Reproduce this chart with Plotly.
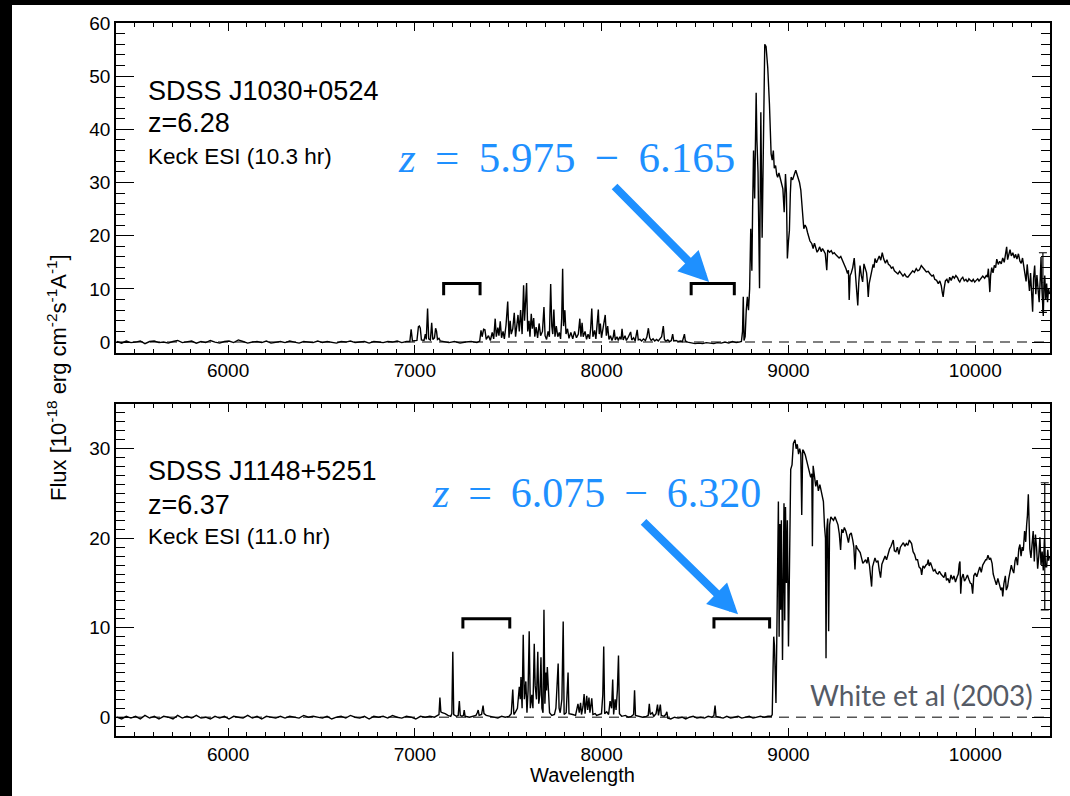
import plotly.graph_objects as go

# ---------------- data ----------------
# Upper panel: SDSS J1030+0524 spectrum (wavelength [A], flux [1e-18 erg/cm2/s/A])
TOP_SPECTRUM = [
    (5405, 0.1), (5430, -0.2), (5455, 0.2), (5480, -0.1), (5505, 0.0), (5530, 0.2), (5555, -0.3), (5580, 0.1),
    (5605, 0.2), (5630, -0.1), (5655, 0.0), (5680, -0.2), (5705, 0.1), (5730, 0.3), (5755, -0.1), (5780, 0.0),
    (5805, 0.2), (5830, -0.2), (5855, 0.1), (5880, -0.1), (5905, 0.3), (5930, 0.0), (5955, -0.2), (5980, 0.1),
    (6005, 0.2), (6030, -0.1), (6055, 0.4), (6080, 0.1), (6105, -0.2), (6130, 0.0), (6155, 0.1), (6180, -0.1),
    (6205, 0.2), (6230, -0.2), (6255, 0.0), (6280, 0.1), (6305, -0.1), (6330, 0.2), (6355, 0.0), (6380, -0.2),
    (6405, 0.1), (6430, 0.0), (6455, -0.1), (6480, 0.2), (6505, -0.1), (6530, 0.1), (6555, 0.0), (6580, -0.2),
    (6605, 0.1), (6630, 0.0), (6655, 0.2), (6680, -0.1), (6705, 0.0), (6730, 0.1), (6755, -0.2), (6780, 0.1),
    (6805, 0.0), (6830, -0.1), (6855, 0.1), (6880, 0.0), (6905, 0.2), (6930, -0.1), (6955, 0.1),
    (6973, 0.1), (6980, 2.4), (6987, 0.2), (7011, 0.3), (7019, 2.9), (7024, 3.0), (7029, 2.6), (7035, 0.4),
    (7049, 0.3), (7056, 1.5), (7061, 0.5), (7068, 6.3), (7074, 0.6), (7083, 0.4), (7090, 3.6), (7096, 0.5),
    (7105, 0.8), (7111, 2.6), (7116, 2.0), (7121, 0.5), (7129, 0.7), (7136, 0.2), (7152, 0.1), (7182, -0.1),
    (7212, 0.1), (7242, -0.2), (7272, 0.0), (7302, 0.1), (7332, -0.1), (7347, 0.2), (7354, 2.2), (7360, 1.0),
    (7368, 2.4), (7375, 2.3), (7382, 0.5), (7394, 1.2), (7404, 0.3), (7414, 1.8), (7422, 0.6), (7430, 4.4),
    (7436, 1.0), (7444, 2.7), (7450, 1.2), (7457, 3.9), (7464, 0.8), (7472, 2.0), (7479, 0.6), (7488, 3.2),
    (7497, 7.6), (7504, 0.8), (7510, 4.0), (7516, 1.5), (7524, 2.5), (7532, 5.5), (7539, 1.0), (7546, 3.0),
    (7552, 5.1), (7559, 2.0), (7566, 6.0), (7574, 1.5), (7582, 10.7), (7587, 4.0), (7594, 9.5), (7598, 11.1),
    (7604, 2.0), (7611, 4.0), (7616, 1.0), (7623, 5.3), (7629, 2.5), (7636, 4.5), (7642, 1.0), (7649, 2.8),
    (7657, 0.8), (7665, 3.5), (7673, 1.2), (7683, 2.0), (7691, 6.6), (7697, 1.2), (7705, 0.5), (7713, 2.0),
    (7720, 1.0), (7727, 10.9), (7733, 3.0), (7738, 1.5), (7744, 6.1), (7750, 1.0), (7757, 3.0), (7765, 1.0),
    (7773, 1.8), (7780, 0.6), (7786, 4.5), (7791, 13.8), (7796, 3.0), (7803, 6.0), (7809, 1.5), (7817, 2.5),
    (7825, 0.7), (7835, 1.8), (7845, 0.6), (7855, 2.0), (7865, 0.8), (7875, 1.5), (7883, 4.4), (7889, 1.0),
    (7895, 3.6), (7901, 1.0), (7911, 2.0), (7919, 0.5), (7927, 1.5), (7935, 0.6), (7941, 2.5), (7947, 6.3),
    (7953, 1.0), (7962, 2.2), (7969, 0.6), (7976, 3.5), (7982, 6.1), (7987, 1.5), (7993, 3.5), (7999, 0.8),
    (8007, 2.5), (8015, 4.0), (8019, 5.1), (8025, 1.2), (8032, 3.0), (8039, 0.5), (8047, 1.2), (8055, 0.3),
    (8062, 1.0), (8067, 2.3), (8073, 0.4), (8082, 1.0), (8089, 0.3), (8097, 1.0), (8104, 0.5), (8109, 2.5),
    (8115, 0.4), (8125, 1.2), (8132, 0.3), (8142, 0.9), (8155, 1.9), (8161, 0.4), (8171, 0.8), (8179, 0.2),
    (8190, 2.3), (8196, 0.4), (8205, 0.5), (8214, 0.2), (8224, 0.6), (8234, 0.3), (8242, 1.0), (8250, 2.6),
    (8257, 0.8), (8265, 0.3), (8275, 0.6), (8284, 0.2), (8294, 0.5), (8303, 0.2), (8312, 0.7), (8321, 1.0),
    (8330, 3.0), (8336, 0.5), (8344, 0.2), (8354, 0.4), (8364, 0.1), (8373, 0.3), (8380, 1.5), (8386, 0.2),
    (8399, 0.3), (8410, 0.1), (8422, 0.2), (8432, 0.1), (8443, 1.5), (8448, 0.2), (8460, 0.0), (8480, -0.2),
    (8500, -0.3), (8520, -0.2), (8540, -0.3), (8560, -0.1), (8580, -0.2), (8600, -0.3), (8620, -0.1),
    (8640, -0.2), (8660, 0.0), (8680, -0.2), (8700, 0.1), (8720, -0.1), (8736, 0.0), (8748, 0.1),
    (8754, 2.0), (8758, 8.5), (8762, 0.3), (8768, 1.0), (8774, 6.0), (8780, 8.5), (8786, 6.0), (8792, 10.0),
    (8798, 21.3), (8804, 13.4), (8808, 25.0), (8813, 36.0), (8819, 27.0), (8823, 40.0), (8827, 46.9),
    (8831, 38.0), (8837, 32.0), (8845, 10.1), (8852, 43.2), (8859, 19.6), (8866, 42.8), (8873, 56.0),
    (8880, 55.6), (8889, 51.6), (8898, 44.8), (8907, 35.4), (8913, 34.2), (8919, 36.0), (8924, 32.7),
    (8931, 33.2), (8937, 31.5), (8942, 31.0), (8949, 31.8), (8957, 30.5), (8964, 29.6), (8970, 28.8),
    (8977, 24.4), (8984, 31.6), (8989, 28.0), (8994, 15.7), (9000, 19.0), (9005, 21.0), (9010, 28.0),
    (9014, 31.0), (9022, 30.5), (9027, 31.2), (9032, 31.6), (9039, 32.3), (9046, 31.5), (9053, 30.8),
    (9059, 30.0), (9066, 28.6), (9071, 26.0), (9076, 23.5), (9082, 21.3), (9089, 22.0), (9096, 21.5),
    (9102, 20.6), (9107, 19.8), (9115, 19.0), (9125, 18.5), (9132, 17.6), (9139, 18.6), (9146, 17.8),
    (9153, 16.9), (9160, 17.3), (9167, 17.9), (9175, 17.0), (9182, 17.6), (9190, 17.1), (9197, 16.6),
    (9205, 13.5), (9210, 17.3), (9220, 16.9), (9229, 17.2), (9237, 16.6), (9245, 16.8), (9254, 16.4),
    (9263, 16.0), (9271, 15.8), (9280, 16.1), (9289, 15.4), (9298, 14.8), (9308, 13.8), (9316, 12.9),
    (9321, 13.5), (9325, 7.9), (9330, 12.5), (9336, 13.0), (9344, 14.0), (9352, 15.8), (9358, 13.0),
    (9364, 12.0), (9371, 6.9), (9376, 11.0), (9383, 14.4), (9390, 12.5), (9397, 11.3), (9404, 14.7),
    (9411, 13.8), (9418, 13.0), (9422, 11.5), (9427, 8.5), (9432, 11.0), (9438, 12.0), (9446, 13.8),
    (9453, 14.6), (9458, 14.0), (9463, 15.7), (9471, 14.9), (9478, 15.5), (9486, 16.2), (9494, 15.4),
    (9502, 16.8), (9510, 15.6), (9519, 14.8), (9527, 15.5), (9535, 14.6), (9543, 14.4), (9551, 13.9),
    (9559, 14.1), (9567, 13.4), (9577, 13.1), (9586, 12.8), (9595, 13.3), (9604, 12.9), (9613, 12.4),
    (9622, 12.8), (9631, 12.3), (9639, 12.2), (9647, 12.6), (9655, 13.0), (9665, 13.4), (9674, 13.1),
    (9684, 13.8), (9692, 13.4), (9701, 13.6), (9711, 14.4), (9720, 13.9), (9729, 13.6), (9738, 13.2),
    (9748, 13.3), (9758, 12.8), (9768, 12.4), (9776, 12.6), (9783, 11.8), (9793, 11.6), (9802, 11.0),
    (9810, 11.5), (9818, 10.6), (9823, 9.4), (9828, 8.5), (9833, 10.0), (9840, 11.5), (9848, 11.8),
    (9856, 11.1), (9863, 12.2), (9871, 11.6), (9880, 12.4), (9888, 12.0), (9896, 12.5), (9905, 12.1),
    (9911, 11.6), (9917, 11.3), (9925, 11.9), (9933, 12.2), (9941, 11.5), (9950, 11.8), (9958, 11.3),
    (9966, 11.9), (9974, 11.6), (9982, 11.4), (9989, 11.8), (9997, 11.3), (10005, 11.6), (10013, 11.9),
    (10020, 11.5), (10030, 11.9), (10040, 12.4), (10050, 12.0), (10060, 12.6), (10065, 12.2), (10070, 13.8),
    (10075, 11.0), (10078, 9.4), (10082, 12.5), (10088, 14.0), (10095, 13.0), (10102, 14.4), (10109, 14.0),
    (10115, 15.6), (10123, 14.6), (10131, 15.2), (10139, 14.7), (10147, 15.8), (10155, 15.0), (10161, 16.5),
    (10168, 17.9), (10173, 15.5), (10179, 16.5), (10186, 17.4), (10193, 16.2), (10201, 16.8), (10209, 15.8),
    (10216, 16.5), (10223, 15.6), (10231, 16.6), (10239, 15.2), (10246, 14.8), (10253, 15.8), (10261, 13.5),
    (10266, 12.0), (10272, 11.4), (10278, 14.6), (10284, 12.0), (10290, 9.6), (10296, 13.0), (10302, 7.0),
    (10307, 5.7), (10312, 12.0), (10318, 14.4), (10324, 9.0), (10330, 12.6), (10336, 10.0), (10342, 7.5),
    (10348, 12.0), (10352, 16.0), (10356, 10.5), (10360, 6.5), (10364, 4.9), (10368, 10.5), (10372, 12.5),
    (10377, 8.0), (10382, 11.0), (10387, 7.5), (10392, 10.0), (10398, 9.0),
]

# Lower panel: SDSS J1148+5251 spectrum
BOTTOM_SPECTRUM = [
    (5405, 0.0), (5430, -0.2), (5455, 0.1), (5480, -0.1), (5505, 0.1), (5530, -0.2), (5555, 0.2), (5580, -0.1),
    (5605, 0.1), (5630, -0.2), (5655, 0.1), (5680, 0.0), (5705, -0.2), (5730, 0.2), (5755, -0.1), (5780, 0.1),
    (5805, -0.1), (5830, 0.2), (5855, -0.1), (5880, 0.0), (5905, -0.2), (5930, 0.1), (5955, -0.1), (5980, 0.1),
    (6005, -0.2), (6030, 0.1), (6055, 0.0), (6080, -0.1), (6105, 0.2), (6130, -0.1), (6155, 0.1), (6180, -0.2),
    (6205, 0.1), (6230, 0.0), (6255, -0.1), (6280, 0.1), (6305, -0.1), (6330, 0.1), (6355, 0.0), (6380, -0.1),
    (6405, 0.2), (6430, 0.0), (6455, 0.1), (6480, 0.0), (6505, -0.1), (6530, 0.1), (6555, -0.2), (6580, 0.0),
    (6605, 0.1), (6630, -0.1), (6655, 0.2), (6680, 0.0), (6705, -0.1), (6730, 0.1), (6755, -0.2), (6780, 0.1),
    (6805, 0.0), (6830, 0.1), (6855, -0.1), (6880, 0.2), (6905, 0.0), (6930, -0.1), (6955, 0.1), (6980, 0.0),
    (7005, -0.2), (7030, 0.1), (7055, 0.0), (7080, 0.1), (7105, 0.0),
    (7129, 0.3), (7134, 2.2), (7139, 0.6), (7146, 0.5), (7162, 0.4), (7177, 0.2), (7192, 0.1), (7198, 0.4),
    (7203, 7.3), (7208, 0.3), (7222, 0.1), (7232, 0.2), (7238, 1.8), (7243, 0.2), (7252, 0.1), (7260, 0.2),
    (7264, 0.8), (7269, 0.1), (7292, 0.0), (7312, 0.1), (7327, 0.2), (7334, 0.5), (7339, 0.8), (7344, 0.2),
    (7357, 0.3), (7365, 1.3), (7370, 0.4), (7382, 0.2), (7404, 0.1), (7424, 0.0), (7444, -0.1), (7464, 0.1),
    (7484, 0.0), (7504, 0.1), (7516, 0.4), (7524, 3.1), (7530, 0.3), (7539, 0.6), (7549, 1.0), (7559, 3.4),
    (7564, 2.0), (7568, 4.5), (7574, 1.0), (7580, 9.2), (7586, 2.0), (7594, 4.0), (7600, 0.5), (7606, 3.0),
    (7612, 9.6), (7618, 1.0), (7626, 2.5), (7632, 1.0), (7639, 8.2), (7644, 3.5), (7651, 2.0), (7658, 7.3),
    (7663, 1.5), (7669, 2.5), (7675, 6.7), (7680, 1.0), (7686, 0.5), (7691, 12.0), (7696, 1.5), (7702, 5.0),
    (7705, 3.0), (7709, 5.6), (7715, 2.5), (7721, 0.5), (7733, 0.2), (7747, 0.3), (7755, 1.0), (7762, 4.0),
    (7767, 6.0), (7772, 1.0), (7778, 0.5), (7787, 2.0), (7794, 10.7), (7799, 0.3), (7810, 0.5), (7820, 5.0),
    (7825, 0.4), (7845, 0.3), (7860, 0.2), (7873, 1.5), (7880, 0.5), (7887, 1.6), (7892, 0.3), (7900, 1.2),
    (7906, 2.6), (7911, 0.4), (7920, 2.4), (7925, 0.8), (7932, 2.2), (7937, 0.5), (7947, 2.1), (7953, 0.3),
    (7965, 0.4), (7973, 0.2), (7987, 0.3), (7999, 0.4), (8006, 2.5), (8011, 7.9), (8016, 0.4), (8027, 0.6),
    (8037, 0.3), (8045, 1.8), (8053, 1.0), (8059, 4.2), (8064, 0.3), (8072, 2.0), (8077, 0.8), (8084, 3.0),
    (8090, 6.9), (8095, 0.4), (8107, 0.1), (8127, 0.2), (8142, 0.0), (8159, 0.1), (8171, 0.3), (8176, 3.0),
    (8181, 0.2), (8199, 0.1), (8219, 0.0), (8239, 0.1), (8249, 0.2), (8255, 1.5), (8260, 0.3), (8271, 0.5),
    (8279, 0.1), (8291, 0.4), (8299, 1.4), (8304, 0.2), (8314, 1.4), (8319, 0.2), (8334, 0.1), (8343, 0.3),
    (8349, 0.6), (8354, -0.1), (8370, -0.2), (8390, 0.0), (8410, -0.1), (8430, 0.0), (8450, -0.2), (8470, 0.0),
    (8490, 0.1), (8510, -0.1), (8530, 0.0), (8550, -0.1), (8570, 0.1), (8590, 0.0), (8601, 0.2), (8607, 1.3),
    (8612, 0.1), (8630, 0.0), (8650, -0.1), (8670, 0.1), (8690, -0.1), (8710, 0.0), (8730, 0.1), (8750, -0.1),
    (8770, 0.0), (8790, 0.1), (8810, -0.1), (8830, 0.0), (8850, 0.1), (8870, 0.0), (8890, 0.1), (8908, 0.1),
    (8913, 0.3), (8917, 5.0), (8921, 9.0), (8925, 8.0), (8929, 2.2), (8933, 1.6), (8937, 8.0), (8941, 18.0),
    (8946, 24.1), (8950, 9.0), (8954, 21.6), (8958, 12.0), (8962, 22.0), (8968, 6.4), (8972, 15.0),
    (8976, 23.9), (8980, 10.8), (8984, 23.5), (8989, 15.0), (8994, 22.0), (9000, 7.9), (9006, 20.0),
    (9012, 27.7), (9019, 28.2), (9026, 30.6), (9035, 31.0), (9041, 30.0), (9047, 30.5), (9054, 29.4),
    (9060, 30.0), (9066, 29.5), (9071, 22.6), (9076, 29.9), (9082, 29.7), (9090, 29.3), (9097, 28.7),
    (9104, 28.0), (9112, 27.5), (9119, 26.8), (9125, 27.2), (9128, 19.1), (9132, 28.1), (9139, 26.9),
    (9146, 25.8), (9153, 26.5), (9160, 25.3), (9168, 26.0), (9175, 25.4), (9181, 24.6), (9187, 24.1),
    (9193, 21.3), (9198, 20.0), (9201, 6.6), (9205, 21.0), (9210, 22.2), (9215, 9.6), (9220, 21.5),
    (9227, 22.4), (9233, 22.2), (9241, 22.0), (9249, 22.4), (9257, 21.9), (9265, 21.5), (9272, 20.5),
    (9279, 18.7), (9285, 21.0), (9292, 20.6), (9299, 21.2), (9307, 20.8), (9314, 20.2), (9321, 19.5),
    (9328, 20.4), (9336, 20.6), (9344, 19.8), (9350, 19.0), (9356, 16.5), (9362, 19.2), (9368, 18.9),
    (9376, 18.7), (9384, 18.4), (9391, 17.8), (9398, 17.2), (9406, 17.4), (9413, 17.6), (9420, 17.2),
    (9426, 17.9), (9434, 16.9), (9440, 15.8), (9445, 14.6), (9450, 16.8), (9456, 17.2), (9463, 17.8),
    (9471, 17.3), (9479, 17.5), (9486, 16.4), (9493, 15.6), (9500, 17.1), (9509, 17.7), (9517, 18.0),
    (9525, 17.6), (9533, 18.3), (9541, 18.8), (9549, 19.1), (9561, 19.8), (9567, 18.6), (9575, 18.5),
    (9583, 19.0), (9591, 18.2), (9599, 19.0), (9607, 19.2), (9615, 19.5), (9623, 19.1), (9631, 19.4),
    (9639, 19.2), (9647, 19.8), (9659, 19.4), (9667, 18.5), (9675, 18.2), (9683, 17.6), (9691, 17.6),
    (9699, 16.8), (9708, 16.6), (9713, 15.9), (9720, 16.9), (9728, 16.7), (9736, 17.0), (9743, 17.1),
    (9748, 17.6), (9753, 16.9), (9760, 17.3), (9768, 16.7), (9776, 16.3), (9784, 16.5), (9792, 16.1),
    (9800, 16.0), (9808, 16.3), (9816, 16.0), (9824, 15.8), (9832, 15.6), (9840, 16.2), (9846, 15.3),
    (9854, 15.5), (9862, 15.0), (9870, 15.9), (9878, 15.4), (9886, 15.8), (9894, 15.1), (9903, 15.7),
    (9909, 16.0), (9914, 17.1), (9918, 17.4), (9922, 13.8), (9927, 15.5), (9935, 16.0), (9942, 15.2),
    (9950, 15.5), (9958, 15.9), (9966, 15.4), (9973, 15.0), (9980, 14.9), (9986, 13.8), (9992, 15.8),
    (10000, 16.1), (10008, 15.7), (10016, 16.4), (10024, 16.8), (10032, 16.2), (10040, 17.0), (10048, 17.3),
    (10056, 17.6), (10061, 17.6), (10068, 18.1), (10076, 17.6), (10082, 17.8), (10090, 17.2), (10096, 16.0),
    (10104, 15.4), (10113, 14.8), (10121, 15.5), (10129, 14.9), (10137, 14.2), (10143, 14.5), (10147, 13.5),
    (10153, 14.9), (10161, 15.8), (10166, 14.2), (10173, 14.6), (10179, 15.5), (10186, 16.3), (10193, 17.0),
    (10199, 16.5), (10206, 16.1), (10213, 17.5), (10219, 17.9), (10226, 17.0), (10233, 18.8), (10239, 19.3),
    (10245, 18.0), (10251, 19.0), (10257, 18.6), (10264, 20.8), (10270, 19.6), (10275, 21.5), (10279, 22.5),
    (10284, 24.9), (10288, 22.0), (10292, 18.8), (10298, 17.8), (10304, 20.0), (10310, 20.8), (10316, 17.4),
    (10322, 20.4), (10328, 19.0), (10334, 16.6), (10340, 18.0), (10346, 20.1), (10352, 17.0), (10358, 18.5),
    (10364, 16.4), (10370, 19.9), (10376, 16.8), (10382, 16.8), (10388, 18.7), (10392, 17.5), (10398, 18.0),
]

# Absorber redshift windows (Ly-beta and Ly-alpha brackets), wavelength limits
TOP_BRACKETS = [(7154, 7349), (8479, 8710)]
BOTTOM_BRACKETS = [(7257, 7508), (8601, 8899)]
TOP_BRACKET_LEVELS = (8.8, 11.0)      # leg end, bar level
BOTTOM_BRACKET_LEVELS = (9.9, 11.0)

# Arrow tips (wavelength, flux)
TOP_ARROW_TIP = (8575, 11.3)
BOTTOM_ARROW_TIP = (8730, 11.5)

# Error bars at the red end (wavelength, flux, half-length)
TOP_ERRBAR = (10362, 11.2, 5.6)
BOTTOM_ERRBAR = (10372, 19.1, 7.1)

X_TICKS = [6000, 7000, 8000, 9000, 10000]
X_TICK_TEXT = ["6000", "7000", "8000", "9000", "10000"]
TOP_Y_TICKS = [0, 10, 20, 30, 40, 50, 60]
BOTTOM_Y_TICKS = [0, 10, 20, 30]

TOP_LABELS = ["SDSS J1030+0524", "z=6.28", "Keck ESI (10.3 hr)"]
BOTTOM_LABELS = ["SDSS J1148+5251", "z=6.37", "Keck ESI (11.0 hr)"]
TOP_ZRANGE = ("5.975", "6.165")
BOTTOM_ZRANGE = ("6.075", "6.320")
CREDIT = "White et al (2003)"

# ---------------- layout helpers ----------------
W, H = 1070, 796
ML, MR, MT, MB = 116, 20, 23, 60
PW, PH = W - ML - MR, H - MT - MB


def pxx(x):
    return (x - ML) / PW


def pxy(y):
    return (H - MB - y) / PH


BLUE = "#1E90FF"
SANS = "Liberation Sans, Arial, sans-serif"
SERIF = "Liberation Serif, Times New Roman, serif"

fig = go.Figure()


def add_panel(spec, brackets, levels, err, xa, ya):
    wl = [p[0] for p in spec]
    fl = [p[1] for p in spec]
    # dashed zero line
    fig.add_trace(go.Scatter(x=[5400, 10400], y=[0, 0], mode="lines",
                             line=dict(color="#555555", width=1.5, dash="10px,7px"),
                             xaxis=xa, yaxis=ya, hoverinfo="skip"))
    fig.add_trace(go.Scatter(x=wl, y=fl, mode="lines",
                             line=dict(color="black", width=1.4),
                             xaxis=xa, yaxis=ya))
    leg, bar = levels
    for (a, b) in brackets:
        fig.add_trace(go.Scatter(x=[a, a, b, b], y=[leg, bar, bar, leg], mode="lines",
                                 line=dict(color="black", width=3),
                                 xaxis=xa, yaxis=ya, hoverinfo="skip"))
    fig.add_trace(go.Scatter(x=[err[0]], y=[err[1]], mode="markers",
                             marker=dict(size=1, color="black"),
                             error_y=dict(type="data", array=[err[2]], color="black",
                                          thickness=1.2, width=4),
                             xaxis=xa, yaxis=ya, hoverinfo="skip"))


add_panel(TOP_SPECTRUM, TOP_BRACKETS, TOP_BRACKET_LEVELS, TOP_ERRBAR, "x", "y")
add_panel(BOTTOM_SPECTRUM, BOTTOM_BRACKETS, BOTTOM_BRACKET_LEVELS, BOTTOM_ERRBAR, "x2", "y2")

axis_common = dict(showline=True, linecolor="black", linewidth=1.5, mirror="ticks",
                   ticks="inside", tickcolor="black", tickwidth=1.3,
                   showgrid=False, zeroline=False,
                   tickfont=dict(family=SANS, size=19, color="black"))

xcommon = dict(axis_common, range=[5400, 10400], tickvals=X_TICKS, ticktext=X_TICK_TEXT,
               ticklen=8,
               minor=dict(dtick=100, tick0=0, ticks="inside", ticklen=4,
                          tickcolor="black", tickwidth=1.1, showgrid=False))

top_dom = [pxy(352.7), 1.0]
bot_dom = [0.0, pxy(404)]

fig.update_layout(
    width=W, height=H,
    margin=dict(l=ML, r=MR, t=MT, b=MB, pad=0),
    paper_bgcolor="white", plot_bgcolor="white",
    showlegend=False,
    xaxis=dict(xcommon, domain=[0, 1], anchor="y"),
    xaxis2=dict(xcommon, domain=[0, 1], anchor="y2"),
    yaxis=dict(axis_common, domain=top_dom, anchor="x", range=[-2.0, 60.0],
               tickvals=TOP_Y_TICKS, ticklen=18,
               minor=dict(dtick=2, tick0=0, ticks="inside", ticklen=9,
                          tickcolor="black", tickwidth=1.1, showgrid=False)),
    yaxis2=dict(axis_common, domain=bot_dom, anchor="x2", range=[-2.1, 35.0],
                tickvals=BOTTOM_Y_TICKS, ticklen=18,
                minor=dict(dtick=1, tick0=0, ticks="inside", ticklen=9,
                           tickcolor="black", tickwidth=1.1, showgrid=False)),
)

annotations = []


def label(text, x, y, size, color="black", family=SANS, xanchor="left", angle=0):
    annotations.append(dict(text=text, x=pxx(x), y=pxy(y), xref="paper", yref="paper",
                            xanchor=xanchor, yanchor="middle", showarrow=False,
                            textangle=angle,
                            font=dict(family=family, size=size, color=color)))


# panel labels
label(TOP_LABELS[0], 146, 91, 27)
label(TOP_LABELS[1], 146, 123, 27)
label(TOP_LABELS[2], 146, 156, 22.5)
label(BOTTOM_LABELS[0], 146, 471, 27)
label(BOTTOM_LABELS[1], 146, 505, 27)
label(BOTTOM_LABELS[2], 146, 536, 22.5)

SP = "\u2009 "
label("<i>z</i>" + SP + "=" + SP + TOP_ZRANGE[0] + SP + "\u2212" + SP + TOP_ZRANGE[1],
      396, 158, 43, color=BLUE, family=SERIF)
label("<i>z</i>" + SP + "=" + SP + BOTTOM_ZRANGE[0] + SP + "\u2212" + SP + BOTTOM_ZRANGE[1],
      430, 493, 42, color=BLUE, family=SERIF)

label(CREDIT, 1035, 695, 28, color="#555b66", family="Lato, Open Sans, sans-serif", xanchor="right")

# axis titles
label("Wavelength", 582, 775, 20, xanchor="center")
label("Flux [10<sup>-18</sup> erg cm<sup>-2</sup>s<sup>-1</sup>A<sup>-1</sup>]", 57, 378, 22,
      xanchor="center", angle=-90)

# arrows
for tip, (ax, ay), xa, ya in [(TOP_ARROW_TIP, (-96, -97), "x", "y"),
                               (BOTTOM_ARROW_TIP, (-96, -94), "x2", "y2")]:
    annotations.append(dict(x=tip[0], y=tip[1], xref=xa, yref=ya, ax=ax, ay=ay,
                            axref="pixel", ayref="pixel", text="", showarrow=True,
                            arrowhead=2, arrowsize=0.75, arrowwidth=8, arrowcolor=BLUE,
                            standoff=0))

fig.update_layout(annotations=annotations)

# black frame strips (left and top edges of the slide)
fig.add_shape(type="rect", xref="paper", yref="paper",
              x0=pxx(0), x1=pxx(12), y0=pxy(H + 5), y1=pxy(-5),
              fillcolor="black", line=dict(width=0), layer="above")
fig.add_shape(type="rect", xref="paper", yref="paper",
              x0=pxx(-5), x1=pxx(W + 5), y0=pxy(5), y1=pxy(-5),
              fillcolor="black", line=dict(width=0), layer="above")

fig.write_html("out.html")
